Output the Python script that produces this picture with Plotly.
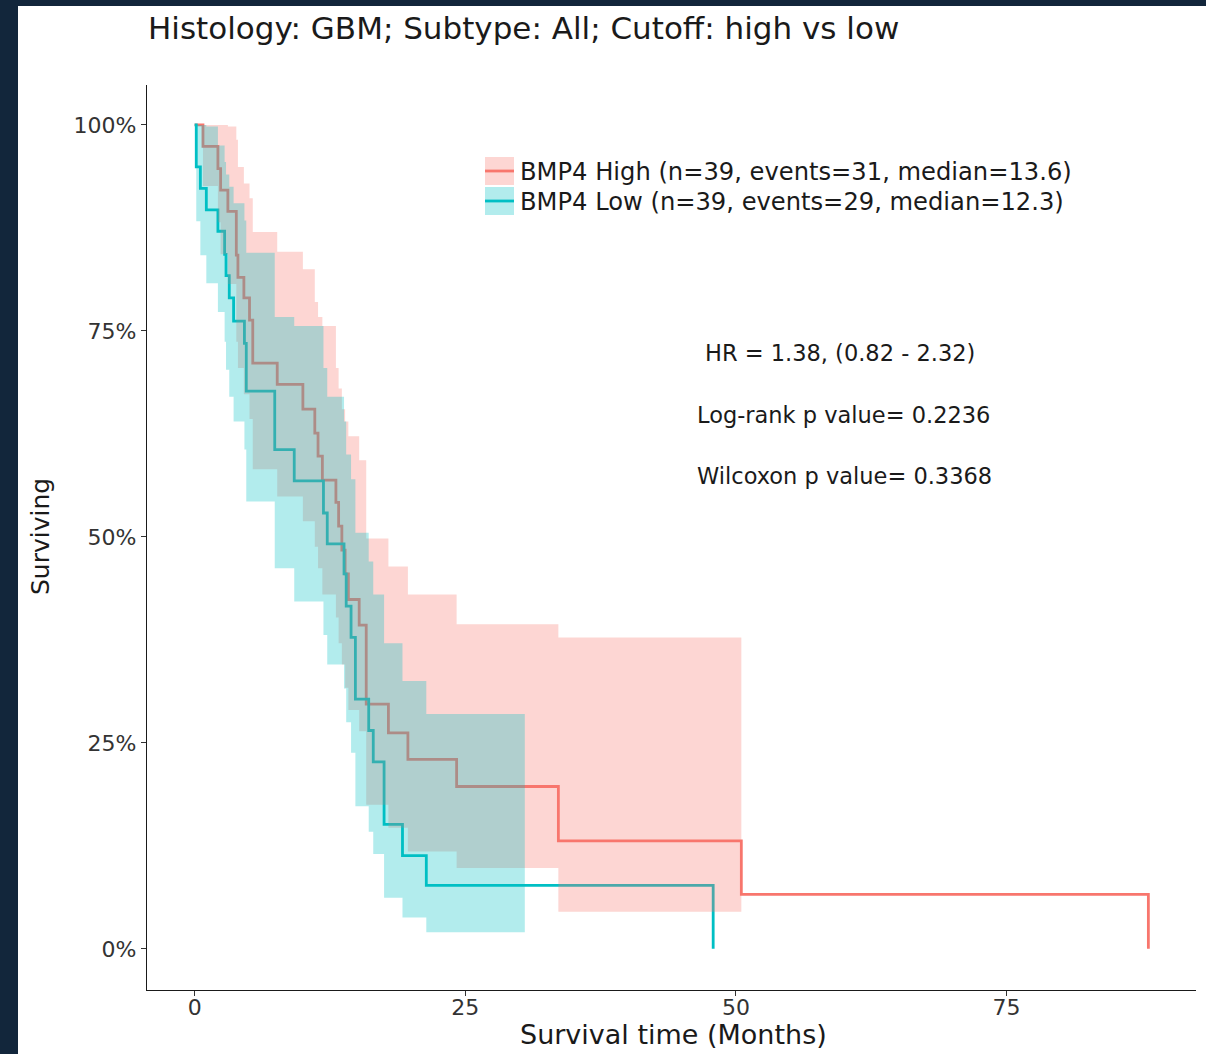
import plotly.graph_objects as go

# Kaplan-Meier estimates with 95% confidence limits, BMP4 High group
high_time = [0, 0.77, 2.15, 2.4, 3.07, 3.85, 4.0, 4.55, 5.07, 5.37, 7.63, 10.0, 11.1, 11.4,
             11.8, 13.05, 13.3, 13.6, 13.9, 14.2, 15.2, 15.85, 17.9, 19.7, 24.2, 33.6, 50.5, 88.1]
high_surv = [1, 0.974, 0.947, 0.921, 0.895, 0.842, 0.815, 0.790, 0.763, 0.711, 0.685, 0.655,
             0.626, 0.598, 0.569, 0.542, 0.513, 0.484, 0.455, 0.424, 0.393, 0.297, 0.262,
             0.230, 0.197, 0.131, 0.066, 0]
high_upper = [1, 1, 1, 1, 0.998, 0.982, 0.949, 0.929, 0.911, 0.870, 0.846, 0.825, 0.785,
              0.767, 0.756, 0.705, 0.680, 0.655, 0.640, 0.622, 0.593, 0.498, 0.464, 0.430,
              0.394, 0.378, None, None]
high_lower = [1, 0.926, 0.882, 0.843, 0.807, 0.737, 0.705, 0.673, 0.643, 0.582, 0.549, 0.519,
              0.488, 0.462, 0.430, 0.402, 0.371, 0.345, 0.317, 0.290, 0.264, 0.175, 0.147,
              0.118, 0.098, 0.045, None, None]

# Kaplan-Meier estimates with 95% confidence limits, BMP4 Low group
low_time = [0, 0.15, 0.53, 1.08, 2.15, 2.77, 2.9, 3.2, 3.6, 4.6, 4.77, 7.4, 9.2, 11.9, 12.25,
            13.8, 14.0, 14.45, 14.85, 16.08, 16.5, 17.5, 19.2, 21.4, 30.5, 47.9]
low_surv = [1, 0.949, 0.923, 0.897, 0.871, 0.843, 0.817, 0.790, 0.762, 0.735, 0.677, 0.606,
            0.568, 0.529, 0.4915, 0.455, 0.416, 0.378, 0.303, 0.265, 0.227, 0.151, 0.113,
            0.077, 0.077, 0]
low_upper = [1, 1, 1, 0.998, 0.975, 0.955, 0.940, 0.925, 0.905, 0.884, 0.845, 0.767, 0.756,
             0.705, 0.670, 0.640, 0.600, 0.570, 0.505, 0.470, 0.430, 0.371, 0.325, 0.285,
             None, None]
low_lower = [1, 0.883, 0.842, 0.808, 0.773, 0.737, 0.703, 0.670, 0.640, 0.606, 0.543, 0.462,
             0.4215, 0.381, 0.345, 0.316, 0.275, 0.238, 0.173, 0.142, 0.115, 0.062, 0.038,
             0.020, None, None]

legend_labels = ["BMP4 High (n=39, events=31, median=13.6)",
                 "BMP4 Low (n=39, events=29, median=12.3)"]
stats_lines = ["HR = 1.38, (0.82 - 2.32)", "Log-rank p value= 0.2236", "Wilcoxon p value= 0.3368"]
title_text = "Histology: GBM; Subtype: All; Cutoff: high vs low"
x_ticks = [0, 25, 50, 75]
y_ticks = [0, 0.25, 0.5, 0.75, 1]
y_tick_text = ["0%", "25%", "50%", "75%", "100%"]

RED = "#F8766D"
TEAL = "#00BFC4"
RED_FILL = "rgba(248,118,109,0.3)"
TEAL_FILL = "rgba(0,191,196,0.3)"
FONT = "DejaVu Sans"
INK = "#1a1a1a"

W, H = 1206, 1054
L, R, T, B = 147, 1196, 85, 990   # plot area in pixels


def px(xp):
    return (xp - L) / (R - L)


def py(yp):
    return (B - yp) / (B - T)


def band_polygon(t, lo, hi):
    """Closed stair-step outline between lower and upper confidence limits."""
    xs_up, ys_up, xs_lo, ys_lo = [], [], [], []
    for i in range(len(t) - 1):
        if hi[i] is None or lo[i] is None:
            break
        xs_up += [t[i], t[i + 1]]
        ys_up += [hi[i], hi[i]]
        xs_lo += [t[i], t[i + 1]]
        ys_lo += [lo[i], lo[i]]
    return xs_up + xs_lo[::-1], ys_up + ys_lo[::-1]


fig = go.Figure()

# survival curves (drawn first so the ribbons tint them)
fig.add_trace(go.Scatter(x=high_time, y=high_surv, mode="lines", line_shape="hv",
                         line=dict(color=RED, width=2.8), hoverinfo="skip", showlegend=False))
fig.add_trace(go.Scatter(x=low_time, y=low_surv, mode="lines", line_shape="hv",
                         line=dict(color=TEAL, width=2.8), hoverinfo="skip", showlegend=False))

# confidence ribbons
bx, by = band_polygon(high_time, high_lower, high_upper)
fig.add_trace(go.Scatter(x=bx, y=by, mode="lines", fill="toself", fillcolor=RED_FILL,
                         line=dict(width=0, color="rgba(0,0,0,0)"), hoverinfo="skip",
                         showlegend=False))
bx, by = band_polygon(low_time, low_lower, low_upper)
fig.add_trace(go.Scatter(x=bx, y=by, mode="lines", fill="toself", fillcolor=TEAL_FILL,
                         line=dict(width=0, color="rgba(0,0,0,0)"), hoverinfo="skip",
                         showlegend=False))

shapes = []
annotations = []

# dark frame strips along the top and left edges
shapes.append(dict(type="rect", xref="paper", yref="paper", x0=px(0), x1=px(18),
                   y0=py(H), y1=py(0), fillcolor="#12263B", line=dict(width=0), layer="below"))
shapes.append(dict(type="rect", xref="paper", yref="paper", x0=px(0), x1=px(W),
                   y0=py(6), y1=py(0), fillcolor="#12263B", line=dict(width=0), layer="below"))

# legend keys
for i, (fill, col, lab) in enumerate([(RED_FILL, RED, legend_labels[0]),
                                      (TEAL_FILL, TEAL, legend_labels[1])]):
    yc = 171 + 30 * i
    shapes.append(dict(type="rect", xref="paper", yref="paper", x0=px(485), x1=px(514),
                       y0=py(yc + 14), y1=py(yc - 14), fillcolor=fill, line=dict(width=0)))
    shapes.append(dict(type="line", xref="paper", yref="paper", x0=px(485), x1=px(514),
                       y0=py(yc), y1=py(yc), line=dict(color=col, width=2.8)))
    annotations.append(dict(xref="paper", yref="paper", x=px(518), y=py(yc + 1), text=lab,
                            showarrow=False, xanchor="left", yanchor="middle",
                            font=dict(family=FONT, size=24.2, color=INK)))

# statistics text
for txt, xl, yc in zip(stats_lines, [703, 695, 695], [352, 414, 475]):
    annotations.append(dict(xref="paper", yref="paper", x=px(xl), y=py(yc + 1), text=txt,
                            showarrow=False, xanchor="left", yanchor="middle",
                            font=dict(family=FONT, size=22.5, color=INK)))

# title and axis titles
annotations.append(dict(xref="paper", yref="paper", x=px(146), y=py(28), text=title_text,
                        showarrow=False, xanchor="left", yanchor="middle",
                        font=dict(family=FONT, size=31, color=INK)))
annotations.append(dict(xref="paper", yref="paper", x=px(40), y=py(537), text="Surviving",
                        showarrow=False, textangle=-90, xanchor="center", yanchor="middle",
                        font=dict(family=FONT, size=25, color=INK)))
annotations.append(dict(xref="paper", yref="paper", x=px(673), y=py(1034),
                        text="Survival time (Months)", showarrow=False, xanchor="center",
                        yanchor="middle", font=dict(family=FONT, size=27, color=INK)))

axis_common = dict(showgrid=False, zeroline=False, showline=True, linecolor=INK,
                   linewidth=1.4, ticks="outside", ticklen=5, tickwidth=1.2,
                   tickcolor="#333333", tickfont=dict(family=FONT, size=22, color="#333333"))

fig.update_layout(
    width=W, height=H,
    margin=dict(l=L, r=W - R, t=T, b=H - B, pad=0),
    paper_bgcolor="white", plot_bgcolor="white",
    showlegend=False,
    shapes=shapes, annotations=annotations,
    xaxis=dict(range=[-4.4, 92.5], tickvals=x_ticks, ticktext=[str(v) for v in x_ticks],
               ticklabelstandoff=-8, **axis_common),
    yaxis=dict(range=[-0.05, 1.0485], tickvals=y_ticks, ticktext=y_tick_text,
               ticklabelstandoff=0, **axis_common),
)

fig.write_html("out.html")
